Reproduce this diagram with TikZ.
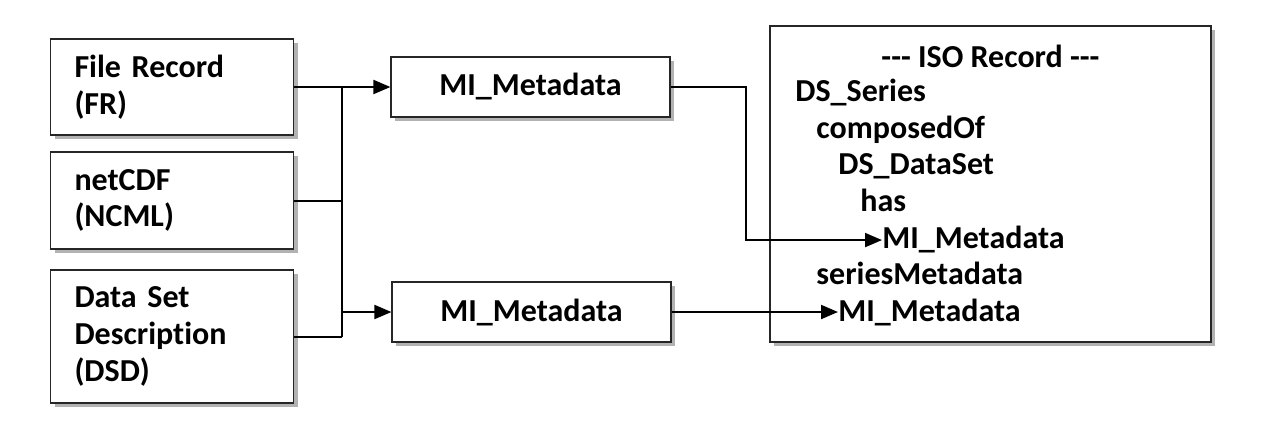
\documentclass[tikz,border=0pt]{standalone}
\usepackage{fontspec}
\setmainfont{Carlito}[Ligatures={NoCommon}]
\usetikzlibrary{positioning, arrows.meta, shadows}

\begin{document}
\begin{tikzpicture}[x=0.5pt, y=-0.5pt,
    font=\fontsize{16}{18.35}\selectfont\bfseries,
    box/.style={draw=black!85, line width=0.6pt, fill=white,
      drop shadow={shadow xshift=2pt, shadow yshift=-2pt, fill=black!30, opacity=1}},
    srcbox/.style={box, align=left, text width=97.5pt, inner xsep=12pt, inner ysep=0pt},
    mibox/.style={box, minimum width=139.5pt, minimum height=30pt},
    entry/.style={inner sep=0pt, anchor=west, text height=11pt, text depth=3pt},
    link/.style={line width=1pt},
    arr/.style={link, -{Triangle[length=8.5pt, width=7pt]}}]
  \useasboundingbox (0,0) rectangle (1262,430);

  % sources
  \node[srcbox, minimum height=48pt] (fr) at (172,87) {File Record\\(FR)};
  \node[srcbox, minimum height=48.5pt] (ncml) at (172,200.5) {netCDF\\(NCML)};
  \node[srcbox, minimum height=66.5pt] (dsd) at (172,336.5) {Data Set\\Description\\(DSD)};

  % metadata
  \node[mibox] (mitop) at (530.5,87) {MI\_Metadata};
  \node[mibox] (mibot) at (531.5,312) {MI\_Metadata};

  % iso record
  \node[box, minimum width=220.5pt, minimum height=158pt] (iso) at (990.5,184) {};
  \node (isotitle) at (990.5,56.7) {-\kern0pt-\kern0pt- ISO Record -\kern0pt-\kern0pt-};
  \foreach \nm/\xx/\txt [count=\i] in {series/795/DS\_Series, composed/816/composedOf,
      dataset/838/DS\_DataSet, has/860/has, dsmeta/882/MI\_Metadata,
      seriesmeta/816/seriesMetadata, srmeta/838/MI\_Metadata}
    \node[entry] (\nm) at (\xx,{56.7+36.67*\i}) {\txt};

  % bus
  \coordinate (bustop) at (342,87);
  \coordinate (busbot) at (342,336.5);
  \draw[link] (bustop) -- (busbot);
  \draw[arr] (fr.east) -- (mitop.west);
  \draw[link] (ncml.east) -- (ncml.east -| bustop);
  \draw[link] (dsd.east) -- (busbot);
  \draw[arr] (mibot.west -| bustop) -- (mibot.west);

  \draw[arr] (mitop.east) -- ++(75,0) |- (dsmeta.west);
  \draw[arr] (mibot.east) -- (mibot.east -| srmeta.west);
\end{tikzpicture}
\end{document}
